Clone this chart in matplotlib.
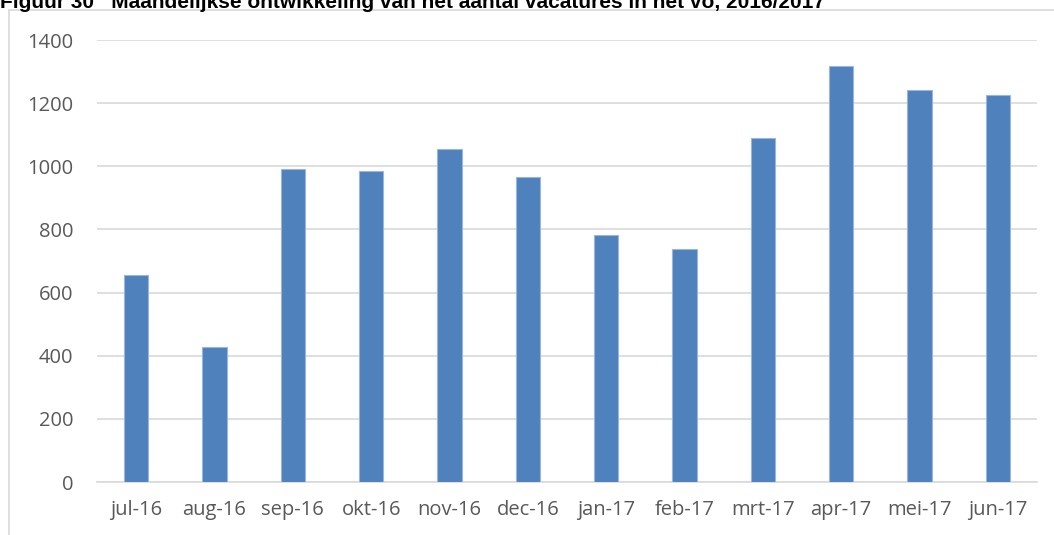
import matplotlib
matplotlib.use("Agg")
import matplotlib.pyplot as plt
from matplotlib.patches import Rectangle

categories = ["jul-16", "aug-16", "sep-16", "okt-16", "nov-16", "dec-16",
              "jan-17", "feb-17", "mrt-17", "apr-17", "mei-17", "jun-17"]
values = [655, 427, 992, 985, 1055, 965, 782, 737, 1090, 1318, 1241, 1227]
yticks = [0, 200, 400, 600, 800, 1000, 1200, 1400]
title = "Figuur 30   Maandelijkse ontwikkeling van het aantal vacatures in het vo, 2016/2017"

W, H = 1054, 535
fig = plt.figure(figsize=(W / 100, H / 100), dpi=100)

# chart frame
fig.patches.append(Rectangle((9 / W, -0.1), 1.2, (H - 10) / H + 0.1, transform=fig.transFigure,
                             fill=False, edgecolor="#d9d9d9", linewidth=1.2))

ax = fig.add_axes([97 / W, (H - 482) / H, 940 / W, 442 / H])
x = range(len(categories))
ax.bar(x, values, width=0.31, color="#4f81bd", edgecolor="#9bb6dc", linewidth=0.8, zorder=3)
ax.set_xlim(-0.5, len(categories) - 0.5)
ax.set_ylim(0, 1400)
ax.set_yticks(yticks)
ax.set_xticks(list(x))
ax.set_xticklabels(categories)
ax.grid(axis="y", color="#d9d9d9", linewidth=1.2, zorder=0)
for s in ["top", "right", "left"]:
    ax.spines[s].set_visible(False)
ax.spines["bottom"].set_color("#d9d9d9")
ax.spines["bottom"].set_linewidth(1.2)
ax.tick_params(axis="both", length=0, labelsize=14.5, labelcolor="#595959")
ax.tick_params(axis="y", pad=17)
ax.tick_params(axis="x", pad=13)
for lab in ax.get_xticklabels() + ax.get_yticklabels():
    lab.set_family("Open Sans")

fig.text(0 / W, 1 - 8 / H, title, ha="left", va="baseline", fontsize=15,
         fontweight="bold", family="Liberation Sans", color="black")

fig.savefig("out.png", dpi=100)
